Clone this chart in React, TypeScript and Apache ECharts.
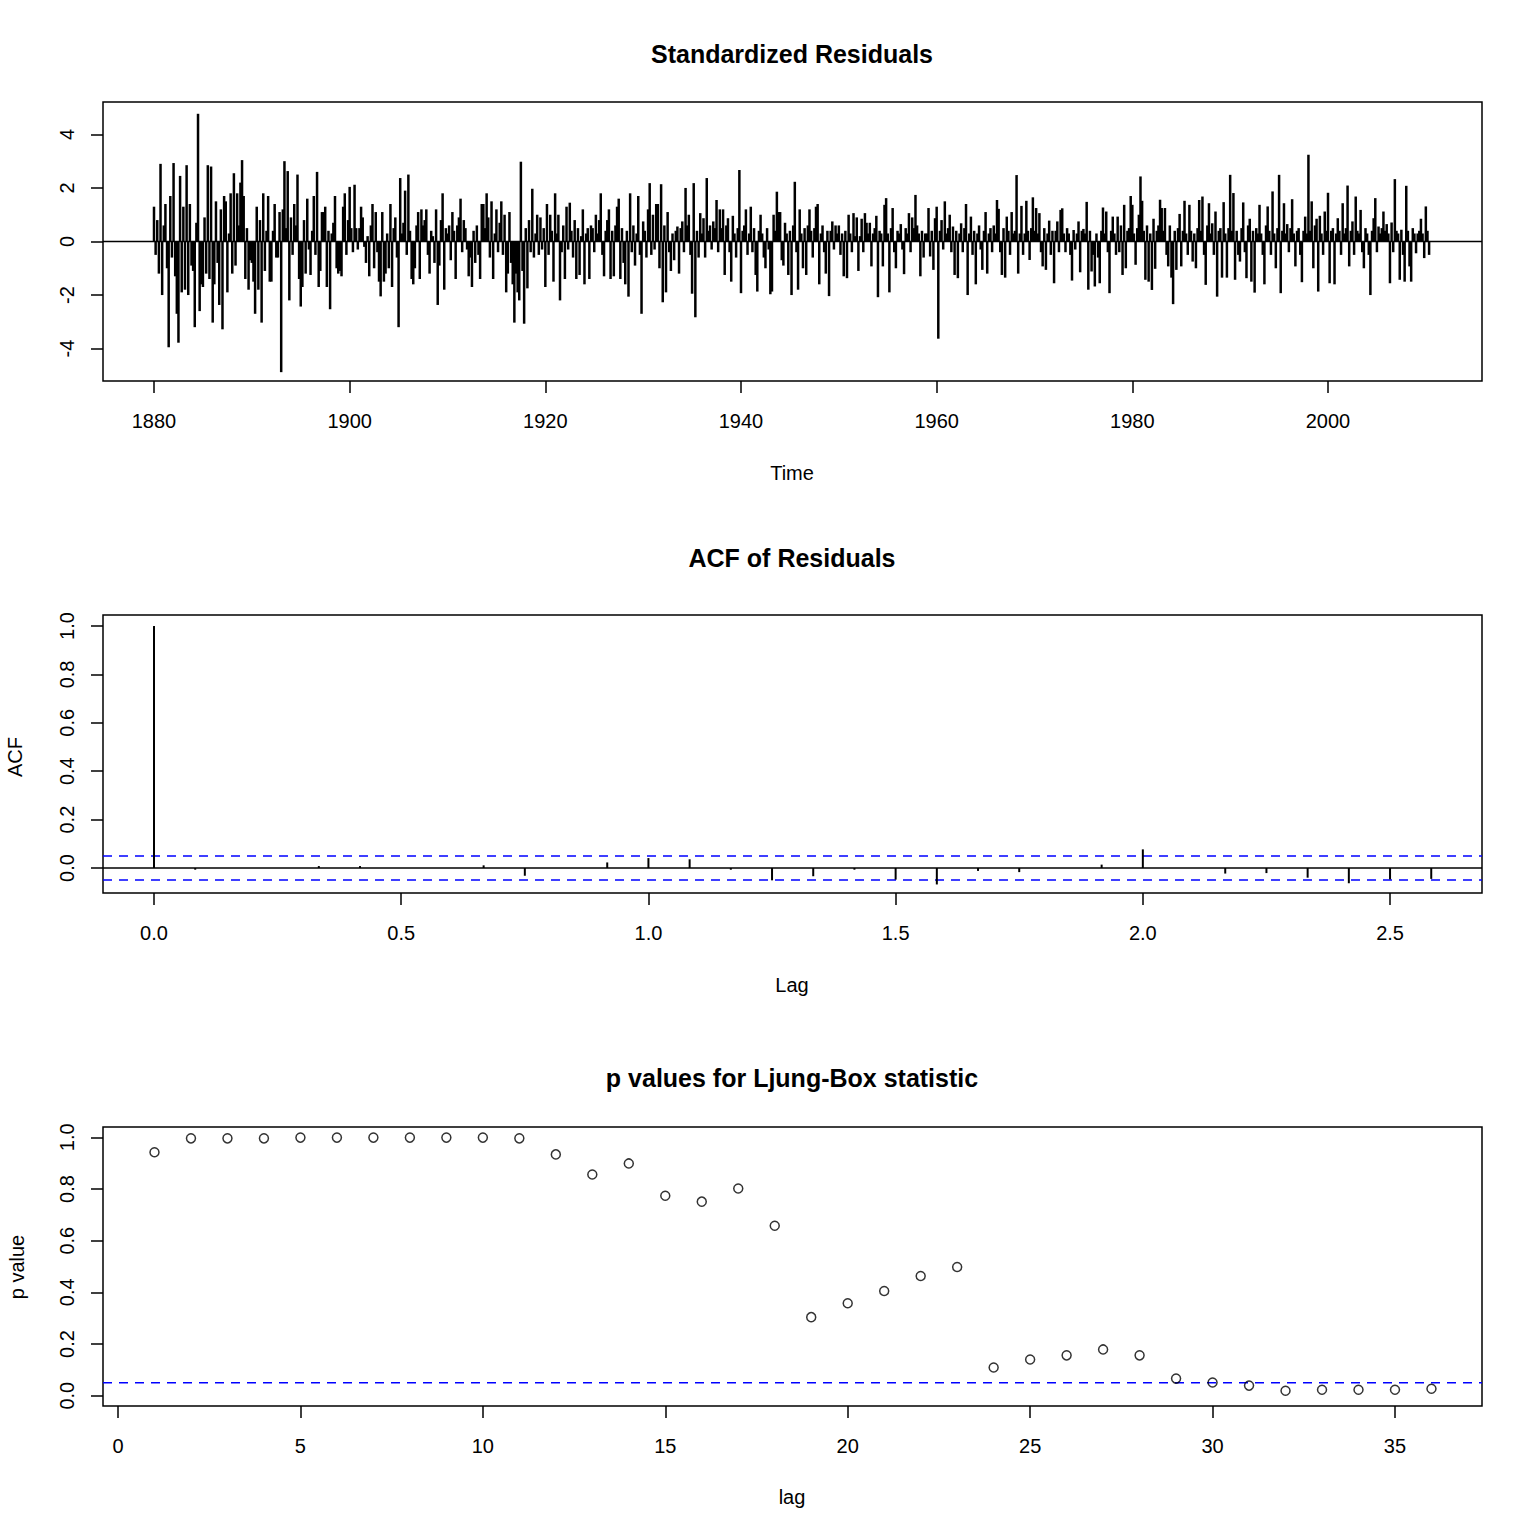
import React, { useEffect, useRef } from "react";
import * as echarts from "echarts";

// ---------- DATA ----------
// Standardized residuals, 6 readings per year, one array per decade
const res1880s = [
  1.3, -0.5, 0.8, -1.2, 2.9, -2.0, 0.6, 1.4, -1.0, -3.95, 1.7, -0.6,
  2.93, -1.3, -2.7, -3.78, 2.45, -1.9, 1.3, -1.8, 2.85, -2.0, 1.4, -0.9,
  -1.1, -3.2, 0.7, 4.77, -2.6, -1.6, -1.7, 0.9, -1.2, 2.85, -1.4, 2.8,
  -3.03, -1.6, 1.5, -0.8, -2.37, 1.2, -3.28, 1.7, 1.5, -1.9, 0.3, 1.8,
  -1.2, 2.55, -0.9, 1.8, 0.6, 2.2, 3.04, 1.7, -1.4, 0.5, -1.8, -0.7,
];
const res1890s = [
  -0.8, -1.5, -2.7, 1.3, -1.8, 0.8, -3.03, 1.8, -1.1, 0.4, 1.7, -1.5,
  -1.5, 0.4, 1.4, -0.6, -0.6, 1.1, -4.88, 1.2, 3.0, 0.5, 2.63, -2.2,
  0.9, -0.5, 1.4, 0.6, 2.5, -1.4, -2.43, -1.7, 0.8, -1.2, 1.6, -0.3,
  -1.25, 0.4, 1.7, -0.5, 2.6, -1.7, -1.1, 1.1, 1.1, 1.3, -1.7, 0.4,
  -2.53, 0.3, 0.7, 1.7, -1.0, -1.2, -1.1, -1.3, 1.3, 1.8, -0.5, 0.8,
];
const res1900s = [
  2.04, 0.5, -0.4, 2.12, 0.5, -0.3, 0.5, 1.3, 0.9, -0.2, -0.8, 0.2,
  -1.3, 0.6, 1.4, -1.0, 1.1, -0.4, -1.5, -2.05, 1.1, -1.5, -1.2, 0.3,
  -1.0, 1.4, -1.7, 0.5, 0.9, -0.6, -3.2, 2.37, 0.3, 0.7, 1.9, -0.5,
  2.5, 0.4, -1.4, -1.6, -1.0, 0.6, 1.1, -1.4, 1.2, 0.6, 0.8, 1.2,
  -0.5, -1.2, 0.4, 0.2, -0.8, 1.2, -2.37, -0.9, 0.8, 1.8, -1.8, 0.5,
];
const res1910s = [
  0.3, 0.6, -0.7, 1.1, 0.4, -1.4, 0.6, 0.9, 1.6, -0.4, 0.8, 0.5,
  -0.3, -1.3, -0.6, -1.7, 0.4, -0.8, 0.6, -0.5, -1.4, 1.4, 1.4, 0.5,
  1.8, 0.9, -0.6, 1.5, -1.4, 0.3, 1.2, -0.4, 0.7, 1.5, -0.5, 1.0,
  -1.9, -1.2, 1.1, -0.8, -1.6, -3.03, -1.2, -1.9, -2.2, 2.98, -1.1, -3.07,
  0.5, -1.75, 0.8, -0.4, 1.97, -0.6, 0.3, 1.0, -0.5, 0.9, -0.3, 0.5,
];
const res1920s = [
  -1.7, 1.4, -0.5, 1.0, 0.4, -1.5, 1.8, 0.3, 1.0, -2.2, -0.4, 0.6,
  -1.4, 1.3, -0.3, 1.45, 0.4, -0.6, 0.8, -1.4, 0.5, -1.25, 0.2, 1.2,
  -1.6, 0.3, 0.5, -1.4, 0.6, 0.5, -0.4, 1.0, 0.3, 0.8, 1.8, -0.5,
  -1.3, 0.4, 0.8, 1.2, -1.4, 0.4, -1.3, 0.6, 1.3, 1.6, -1.4, 0.5,
  -0.8, -1.6, 0.4, -2.06, 1.8, -0.4, 0.6, -0.9, 0.3, 1.7, -0.5, -2.7,
];
const res1930s = [
  0.75, 0.4, -0.6, 1.2, 2.18, -0.5, 1.0, -0.3, 1.4, 1.4, -1.0, 2.14,
  -2.27, 0.6, -1.9, 1.1, -0.4, -1.1, 0.3, -0.7, 0.4, 0.56, -1.2, 0.5,
  0.75, -0.4, 2.0, 0.6, 1.0, -0.5, -1.95, 2.18, -2.83, 0.4, -0.6, 1.06,
  0.3, 0.87, -0.6, 2.37, 0.4, 0.6, -0.3, 0.75, 0.5, 1.55, -0.4, 1.2,
  0.5, 1.2, -1.25, 0.6, 0.87, -0.4, -1.5, 0.96, 0.3, -0.6, 0.5, 2.67,
];
const res1940s = [
  -1.93, 0.4, 0.6, 1.2, -0.5, 0.3, 1.3, -0.4, 0.5, -1.25, -1.87, 0.4,
  1.0, 0.3, -0.6, -1.0, 0.5, -0.3, -1.97, -1.87, 1.0, 0.4, 1.86, 1.1,
  1.1, -0.7, -0.9, 0.7, 0.3, -1.25, 0.4, -2.0, 0.6, 2.23, -0.4, -1.8,
  1.2, 0.3, -1.0, 0.5, -1.25, 0.6, 1.2, 0.4, -0.6, 0.5, 1.3, 1.4,
  -1.6, 0.3, 0.6, -0.4, -1.2, 0.4, -2.04, 0.4, 0.75, -0.3, 0.6, 0.3,
];
const res1950s = [
  0.6, -0.5, 0.3, -1.3, 0.4, -1.37, 1.0, 0.3, -0.4, 1.06, 0.2, 0.9,
  -1.1, 0.2, 0.85, -0.4, 1.06, 0.7, 0.3, 0.7, -0.93, 0.3, 0.5, 0.96,
  -2.08, 0.4, 0.3, -0.93, 1.37, 1.62, 0.3, -1.9, 0.5, 1.25, -0.4, -1.0,
  0.4, 0.3, 0.65, -0.3, -1.22, 0.5, 0.3, 1.06, -0.4, 0.9, 0.5, 1.74,
  0.6, 0.3, -1.3, 0.4, -0.6, 0.3, 0.3, 1.25, -0.56, 0.4, -1.06, 0.87,
];
const res1960s = [
  1.3, -3.63, 0.4, 0.8, -0.3, 1.5, 0.3, 0.5, 1.0, -0.4, 0.56, -1.25,
  0.4, -1.37, 0.3, 0.68, -0.4, 0.5, 1.4, -2.0, 0.3, 0.93, -0.5, 0.4,
  -1.6, 0.3, 0.6, -0.3, -1.06, 0.4, 1.1, -1.2, 0.3, 0.5, -0.4, 0.6,
  0.3, 1.55, 1.22, -0.4, -1.25, 0.5, -1.35, 0.93, 0.4, -0.5, 1.1, 0.3,
  0.4, 2.48, -1.2, 0.3, 1.33, -0.5, 0.3, 1.52, 0.4, -0.69, 0.5, 1.65,
];
const res1970s = [
  0.4, 1.25, 0.3, 1.06, -0.4, -0.93, 0.5, -1.06, 0.3, 0.78, -0.5, 0.4,
  -1.56, 0.4, 0.75, -0.4, 1.18, 1.24, 0.3, -0.4, 0.5, 0.3, -0.5, -1.46,
  0.43, -0.3, 0.3, 0.75, -1.15, 0.4, 0.47, 0.3, 1.48, -1.8, 0.4, -1.12,
  -0.5, -1.68, 0.3, -0.6, -1.56, 0.4, 1.27, 0.3, 1.12, -0.4, -1.93, 0.4,
  0.93, 0.3, -0.5, 0.93, -0.4, 0.6, -1.25, 1.37, -1.0, 0.4, 0.5, 1.7,
];
const res1980s = [
  1.37, 0.3, -0.87, 0.5, 1.0, 2.43, 1.52, 0.4, -1.43, 0.6, -1.5, 0.3,
  -1.81, 0.85, -1.02, 0.4, 0.6, 1.56, 1.25, 0.4, 1.25, -0.5, -0.93, 0.6,
  -1.35, -2.34, 0.4, -1.06, 0.5, 1.03, -0.93, 0.4, 1.52, 0.3, -0.5, 1.37,
  0.4, -0.75, 0.3, -1.0, 0.5, 1.55, 0.4, 1.68, -0.5, -1.62, 0.6, 1.43,
  0.3, 0.68, -0.5, 1.12, -2.06, 0.4, 0.5, -1.35, 1.47, 0.3, -1.35, 0.5,
];
const res1990s = [
  2.49, 0.4, 1.81, -1.43, 0.4, -0.5, -0.75, 0.5, 1.46, -0.4, -1.37, 0.6,
  0.85, -1.5, 0.4, -1.91, 0.5, 0.3, 1.37, 0.3, -0.5, -1.6, 0.6, 1.31,
  0.4, -0.5, 1.87, 0.3, -1.0, 0.5, 2.49, -1.93, 0.4, 1.43, 0.3, 0.65,
  -0.4, 0.5, 1.58, 0.3, -0.93, 0.4, 0.5, -0.5, -1.52, 0.4, 0.93, 0.3,
  3.24, 0.4, 1.5, -1.0, 0.6, 0.85, -1.87, 0.96, 0.3, -0.5, 1.12, 0.4,
];
const res2000s = [
  1.82, -1.56, 0.4, 0.5, -1.6, 0.3, 0.87, 0.4, -0.5, 1.43, 0.3, 0.5,
  2.09, -0.93, 0.4, 0.75, -0.5, 1.68, 0.4, 0.3, 1.18, -0.4, -1.0, 0.5,
  0.3, -0.5, -2.0, 0.4, 0.87, 1.62, -0.4, 0.56, 0.3, 0.5, 1.12, 0.4,
  0.65, 0.3, -1.56, 0.71, -0.4, 2.33, 0.4, 0.3, -1.43, 0.44, -0.5, -1.5,
  2.08, 0.4, -0.93, -1.5, 0.5, 0.3, -0.44, 0.3, 0.4, 0.85, 0.3, -0.62,
  1.31, 0.4, -0.5,
];
const residualStartYear = 1880;
const readingsPerYear = 6;
const timeTicks = [1880, 1900, 1920, 1940, 1960, 1980, 2000];
const residTicks = [-4, -2, 0, 2, 4];

// ACF of residuals (lags in years, monthly series)
const acfValues = [
  1.0, -0.007, 0.0, 0.0, 0.008, 0.008, 0.0, 0.0, 0.011, -0.032, 0.0, 0.023,
  0.041, 0.036, -0.007, -0.051, -0.034, -0.007, -0.048, -0.068, -0.012, -0.017,
  0.0, 0.014, 0.077, 0.0, -0.023, -0.021, -0.04, -0.063, -0.047, -0.045,
];
const acfLagStep = 1 / 12;
const acfBound = 0.0496;
const acfXTicks = [0, 0.5, 1.0, 1.5, 2.0, 2.5];
const acfYTicks = [0, 0.2, 0.4, 0.6, 0.8, 1.0];

// Ljung-Box p values
const lbLags = [
  1, 2, 3, 4, 5, 6, 7, 8, 9, 10, 11, 12, 13, 14, 15, 16, 17, 18,
  19, 20, 21, 22, 23, 24, 25, 26, 27, 28, 29, 30, 31, 32, 33, 34, 35, 36,
];
const lbPValues = [
  0.942, 0.996, 0.996, 0.996, 0.999, 0.999, 0.999, 0.999, 0.999, 0.999, 0.996, 0.934,
  0.856, 0.899, 0.774, 0.751, 0.802, 0.658, 0.304, 0.358, 0.405, 0.463, 0.498, 0.109,
  0.14, 0.156, 0.179, 0.156, 0.066, 0.051, 0.039, 0.019, 0.023, 0.023, 0.023, 0.027,
];
const lbLevel = 0.05;
const lagTicks = [0, 5, 10, 15, 20, 25, 30, 35];
const pTicks = [0, 0.2, 0.4, 0.6, 0.8, 1.0];

// ---------- CHART ----------
const FONT = "Liberation Sans, Arial, sans-serif";

const residuals = [
  ...res1880s, ...res1890s, ...res1900s, ...res1910s, ...res1920s, ...res1930s, ...res1940s,
  ...res1950s, ...res1960s, ...res1970s, ...res1980s, ...res1990s, ...res2000s,
];

function spikeItem(width: number) {
  return (params: any, api: any) => {
    const x = api.value(0);
    const v = api.value(1);
    const p0 = api.coord([x, 0]);
    const p1 = api.coord([x, v]);
    return {
      type: "line",
      shape: { x1: p0[0], y1: p0[1], x2: p1[0], y2: p1[1] },
      style: { stroke: "#000", lineWidth: width },
    };
  };
}

function xAxisCfg(grid: number, min: number, max: number, ticks: number[], fmt: (v: number) => string) {
  return {
    gridIndex: grid,
    type: "value",
    min,
    max,
    position: "bottom",
    axisLine: { show: false, onZero: false },
    splitLine: { show: false },
    axisTick: { show: true, length: 12, inside: false, customValues: ticks, lineStyle: { color: "#000", width: 1.5 } },
    axisLabel: { customValues: ticks, formatter: fmt, margin: 30, color: "#000", fontSize: 20, fontFamily: FONT },
  };
}
function yAxisCfg(grid: number, min: number, max: number, ticks: number[], fmt: (v: number) => string) {
  return {
    gridIndex: grid,
    type: "value",
    min,
    max,
    position: "left",
    axisLine: { show: false, onZero: false },
    splitLine: { show: false },
    axisTick: { show: true, length: 12, inside: false, customValues: ticks, lineStyle: { color: "#000", width: 1.5 } },
    axisLabel: { customValues: ticks, formatter: fmt, rotate: 90, margin: 26, color: "#000", fontSize: 20, fontFamily: FONT },
  };
}

const X1 = [1874.787, 2015.741];
const Y1 = [-5.21, 5.21];
const X2 = [-0.1032, 2.686];
const Y2 = [-0.1033, 1.0455];
const X3 = [-0.411, 37.385];
const Y3 = [-0.04, 1.04];

export default function App() {
  const ref = useRef<HTMLDivElement>(null);
  useEffect(() => {
    document.body.style.margin = "0";
    const chart = echarts.init(ref.current!, undefined, { renderer: "svg" });
    const resData = residuals.map((v, i) => [residualStartYear + i / readingsPerYear, v]);
    const acfData = acfValues.map((v, i) => [i * acfLagStep, v]);
    const lbData = lbLags.map((l, i) => [l, lbPValues[i]]);
    const gridBase = { left: 103, width: 1379, show: true, borderColor: "#000", borderWidth: 1.5, backgroundColor: "transparent" };
    const hline = (xi: number, yi: number, xr: number[], y: number, color: string, dashed: boolean) => ({
      type: "line",
      xAxisIndex: xi,
      yAxisIndex: yi,
      data: [[xr[0], y], [xr[1], y]],
      symbol: "none",
      silent: true,
      lineStyle: { color, width: 1.5, type: dashed ? [9, 7] : "solid" },
      z: 1,
    });
    const text = (t: string, x: number, y: number, size: number, bold: boolean, rot = 0) => ({
      type: "text",
      x,
      y,
      rotation: rot,
      style: {
        text: t,
        fill: "#000",
        font: `${bold ? "bold " : ""}${size}px ${FONT}`,
        textAlign: "center",
        textVerticalAlign: "middle",
      },
    });
    chart.setOption({
      animation: false,
      backgroundColor: "#fff",
      grid: [
        { ...gridBase, top: 102, height: 279 },
        { ...gridBase, top: 615, height: 278 },
        { ...gridBase, top: 1127, height: 279 },
      ],
      xAxis: [
        xAxisCfg(0, X1[0], X1[1], timeTicks, (v) => String(v)),
        xAxisCfg(1, X2[0], X2[1], acfXTicks, (v) => v.toFixed(1)),
        xAxisCfg(2, X3[0], X3[1], lagTicks, (v) => String(v)),
      ],
      yAxis: [
        yAxisCfg(0, Y1[0], Y1[1], residTicks, (v) => String(v)),
        yAxisCfg(1, Y2[0], Y2[1], acfYTicks, (v) => v.toFixed(1)),
        yAxisCfg(2, Y3[0], Y3[1], pTicks, (v) => v.toFixed(1)),
      ],
      series: [
        hline(0, 0, X1, 0, "#000", false),
        {
          type: "custom",
          xAxisIndex: 0,
          yAxisIndex: 0,
          renderItem: spikeItem(2.5),
          encode: { x: 0, y: 1 },
          data: resData,
          silent: true,
          z: 2,
        },
        hline(1, 1, X2, 0, "#000", false),
        hline(1, 1, X2, acfBound, "#0000FF", true),
        hline(1, 1, X2, -acfBound, "#0000FF", true),
        {
          type: "custom",
          xAxisIndex: 1,
          yAxisIndex: 1,
          renderItem: spikeItem(2),
          encode: { x: 0, y: 1 },
          data: acfData,
          silent: true,
          z: 2,
        },
        hline(2, 2, X3, lbLevel, "#0000FF", true),
        {
          type: "scatter",
          xAxisIndex: 2,
          yAxisIndex: 2,
          data: lbData,
          symbol: "circle",
          symbolSize: 9,
          itemStyle: { color: "rgba(0,0,0,0)", borderColor: "#000", borderWidth: 1.5 },
          silent: true,
          z: 3,
        },
      ],
      graphic: [
        text("Standardized Residuals", 792, 54, 25, true),
        text("Time", 792, 473, 20, false),
        text("ACF of Residuals", 792, 558, 25, true),
        text("Lag", 792, 985, 20, false),
        text("ACF", 15, 757, 20, false, Math.PI / 2),
        text("p values for Ljung-Box statistic", 792, 1078, 25, true),
        text("lag", 792, 1497, 20, false),
        text("p value", 17, 1267, 20, false, Math.PI / 2),
      ],
    });
    return () => chart.dispose();
  }, []);
  return <div ref={ref} style={{ width: 1536, height: 1536 }} />;
}
